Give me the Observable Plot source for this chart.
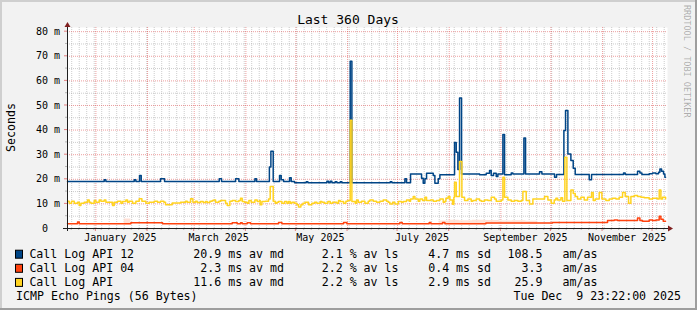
<!DOCTYPE html>
<html><head><meta charset="utf-8">
<script src="https://cdn.jsdelivr.net/npm/d3@7"></script>
<script src="https://cdn.jsdelivr.net/npm/@observablehq/plot@0.6"></script>
<style>
html,body{margin:0;padding:0;background:#f2f2f2;}
#chart svg{display:block;}
</style>
</head><body><div id="chart"></div>
<script>
// ---- data (x = day offset from 2025-01-01 UTC, y = milliseconds) ----
const seriesNames = ["Call Log API 12", "Call Log API 04", "Call Log API"];
const seriesColors = ["#004586", "#ff420e", "#ffd320"];

const api12 = [[-17.03,19.1],[5,19.8],[6,19.1],[23,19.8],[24,19.1],[26.2,21.5],[27.2,19.1],[38.8,20.2],[41.2,19.1],[74,20.2],[75.4,19.1],[83.8,20.2],[85.8,19.1],[95.4,20.2],[96.4,19.1],[104.1,25.0],[105,31.4],[106.4,19.1],[110.2,21.5],[111.2,19.8],[112.6,19.1],[116.2,20.6],[117.2,19.1],[119.2,18.6],[126.2,19.0],[127.2,18.6],[138.6,19.2],[139.6,18.6],[140.6,19.2],[141.6,18.6],[143.6,19.0],[144.6,18.6],[146.6,19.0],[147.6,18.6],[152.6,68.0],[153.6,18.6],[176.6,19.0],[177.6,18.6],[185.4,20.2],[186.4,18.6],[188.8,22.2],[195.4,20.4],[196.4,18.4],[197.4,20.2],[198.4,22.5],[202.4,21.5],[203.4,18.4],[205.4,20.2],[206.4,21.8],[215.2,35.0],[216.2,31.0],[217.2,24.0],[218.2,53.0],[219.4,22.2],[230.2,21.8],[234.2,22.5],[236.2,23.6],[237.2,21.5],[238.6,22.5],[240.2,21.1],[241.2,22.2],[244.2,38.2],[245.2,21.8],[249.2,22.6],[250.2,22.2],[256.8,36.8],[257.8,22.2],[266.2,23.1],[267.6,22.2],[275.2,20.8],[276.4,22.0],[280.8,39.8],[281.8,48.0],[283.2,30.3],[285,27.6],[286.4,24.5],[287.6,22.0],[296,19.8],[297.4,22.0],[316.6,22.6],[317.6,22.0],[325,23.3],[326.4,22.6],[327.6,22.0],[332,22.3],[334,22.6],[336,22.3],[337.6,22.9],[338.4,24.2],[339.4,23.3],[340.6,22.2],[341.4,20.8],[341.8,20.8]];

const api04 = [[-17.03,1.9],[-11,2.6],[-10,1.9],[21,2.3],[40,1.9],[81.8,2.3],[84.8,1.9],[86.8,2.3],[87.8,1.9],[90.8,2.3],[92.8,1.9],[109.6,2.4],[111.6,1.9],[148.6,2.4],[150.6,1.9],[182.4,2.4],[183.8,1.9],[200,2.4],[201,1.9],[208,2.4],[209.4,1.9],[234,2.2],[274,2.4],[307,3.25],[311,3.5],[313,3.25],[325,4.3],[326.4,3.25],[328,2.95],[332,3.5],[334,3.25],[336,3.5],[338,5.0],[339,3.8],[340.4,2.95],[341.8,2.95]];

const api = [[-17.03,11.1],[-16,10.3],[-14.6,11.1],[-13,10.3],[-11,10.7],[-10,9.3],[-9,10.3],[-7,10.7],[-5,11.6],[-4,10.7],[-3,10.3],[-1,11.4],[0,10.7],[2,11.6],[3,11.1],[5,11.6],[6,10.7],[10,9.3],[11,10.7],[13,11.1],[15,10.3],[16,11.0],[18,11.6],[19,10.7],[20,11.1],[22,10.3],[24,11.1],[26,12.1],[27.6,11.1],[30,10.3],[32,10.7],[35,11.1],[37,10.7],[38.8,11.1],[40.8,10.7],[41.8,9.7],[45.8,10.4],[50.8,10.7],[53.8,11.1],[54.8,10.7],[56.8,12.1],[58.2,10.7],[59.8,11.1],[60.8,10.6],[62.8,11.0],[64.4,10.6],[65.8,11.0],[66.8,10.6],[68.4,11.1],[69.8,11.4],[70.8,11.6],[71.8,10.7],[73.8,11.1],[74.8,11.4],[77.8,10.3],[78.8,9.3],[80.4,11.1],[81.8,11.4],[83.8,11.0],[85.8,11.4],[86.8,12.3],[87.8,11.0],[89.2,10.7],[90.8,10.3],[91.8,11.4],[93.2,10.7],[95.4,11.6],[96.8,11.0],[98.2,11.4],[98.6,9.7],[99.6,11.0],[101.6,11.1],[103.6,12.0],[104.6,17.1],[106.4,11.1],[107.6,10.3],[108.6,10.7],[109.6,11.0],[111.6,10.3],[113.2,11.0],[114.6,10.3],[115.6,11.0],[116.6,10.3],[117.6,10.7],[119.2,10.3],[120.6,9.7],[121.6,8.7],[123,9.7],[124.2,10.3],[125.6,10.7],[127.6,9.7],[129.6,10.3],[131.2,10.7],[132.6,10.3],[134.6,11.0],[135.6,10.7],[137.2,10.3],[139.2,11.0],[140.6,10.3],[142,10.7],[144.6,10.3],[145.6,11.4],[146.6,11.0],[148.6,10.3],[150,11.1],[151.2,11.4],[152.6,44.0],[153.6,11.0],[155.6,10.3],[156.4,11.6],[157.4,10.7],[159.4,11.1],[161.4,10.3],[163.4,11.1],[164.4,11.6],[166.4,11.1],[168.4,10.7],[170.4,11.1],[172.4,11.6],[174.4,11.1],[175.4,10.7],[176.4,10.0],[178,10.7],[179.4,10.0],[181.4,11.0],[183.4,10.7],[184.4,11.0],[186.4,11.6],[188,11.1],[188.8,12.0],[190.4,13.0],[191.4,12.0],[193.4,11.1],[194.4,12.0],[196,11.4],[197.4,12.7],[198.4,11.4],[200.8,11.6],[202.4,11.1],[204.4,11.4],[206.4,12.0],[208.4,10.7],[209.4,11.1],[210,12.3],[211.4,13.0],[212.4,11.6],[214,9.9],[214.8,12.7],[215.2,18.8],[216.2,13.0],[218.2,27.2],[219.6,12.7],[221.2,11.4],[223.2,12.0],[225.2,11.1],[226.2,11.4],[228.2,12.0],[230.2,11.4],[231.2,11.1],[233.2,11.6],[235.2,11.4],[237.2,12.7],[239.2,12.0],[240.2,11.1],[243.2,11.6],[244.2,20.8],[245.2,12.7],[247.2,11.6],[249.2,11.1],[251.2,11.4],[253.2,11.1],[255.2,11.4],[256.2,15.0],[258.2,11.4],[260.2,10.0],[262.2,12.0],[269.2,13.0],[271.2,11.6],[273.2,10.3],[275,11.6],[276,12.3],[277,11.6],[279,12.5],[280,11.1],[281.4,29.0],[282.6,11.4],[285,15.7],[286.4,14.2],[287.6,13.0],[289,12.0],[291,12.7],[293,11.6],[295,12.7],[297.4,14.6],[298.4,11.4],[299.6,12.0],[302,14.6],[303.6,12.0],[306,11.4],[308,12.0],[310,12.3],[312,12.0],[314,12.7],[316,14.6],[317.6,13.0],[319.6,10.3],[321,13.0],[323,13.4],[325,13.0],[327,12.7],[329,12.5],[332,12.0],[334,12.3],[337,12.0],[338,15.7],[339,12.0],[340,12.7],[341.8,12.0]];

// light smoke band around the API 04 line: [day, low, high]
const api04Smoke = [[17,1.4,3.9],[21,1.4,3.9],[21,NaN,NaN],[206,1.6,3.0],[212,1.6,3.4],[218,1.5,3.2],[226,1.6,3.4],[234,1.6,3.3],[242,1.7,3.0],[250,1.7,3.1],[258,1.7,2.9],[265,1.7,2.9]];

const legendMedian = ["20.9", "2.3", "11.6"];
const legendLoss = ["2.1", "2.2", "2.2"];
const legendSd = ["4.7", "0.4", "2.9"];
const legendAmAs = ["108.5", "3.3", "25.9"];

const yTicks = [0, 10, 20, 30, 40, 50, 60, 70, 80];
const yTickLabels = ["0  ", "10 m", "20 m", "30 m", "40 m", "50 m", "60 m", "70 m", "80 m"];
const monthStarts = ["2025-01-01","2025-02-01","2025-03-01","2025-04-01","2025-05-01","2025-06-01","2025-07-01","2025-08-01","2025-09-01","2025-10-01","2025-11-01","2025-12-01"];
const monthLabelDates = ["2025-01-16","2025-03-16","2025-05-16","2025-07-16","2025-09-16","2025-11-16"];
const monthLabelTexts = ["January 2025","March 2025","May 2025","July 2025","September 2025","November 2025"];

const titleText = "Last 360 Days";
const yAxisLabel = "Seconds";
const footerLeft = "ICMP Echo Pings (56 Bytes)";
const footerRight = "Tue Dec  9 23:22:00 2025";
const watermark = "RRDTOOL / TOBI OETIKER";

// ---- build ----
const base = Date.UTC(2025, 0, 1), DAY = 864e5;
const toDate = d => new Date(base + d * DAY);
const toRows = pairs => pairs.map(([d, v]) => ({date: toDate(d), v}));
const smokeRows = api04Smoke.map(([d, lo, hi]) => ({date: toDate(d), lo, hi}));
const minorY = [5, 15, 25, 35, 45, 55, 65, 75];
const majorY = yTicks.filter(v => v > 0);
const minorX = d3.range(-14.5, 343, 4.5).map(toDate);
const majorX = monthStarts.map(s => new Date(s + "T00:00:00Z"));

const W = 697, H = 310;
const M = {l: 67, r: 30, t: 27, b: 82};
const FONT = "'DejaVu Sans Mono', monospace";

const plot = Plot.plot({
  width: W, height: H,
  marginLeft: M.l, marginRight: M.r, marginTop: M.t, marginBottom: M.b,
  x: {type: "utc", domain: [toDate(-17.03), toDate(342.97)], axis: null},
  y: {domain: [0, 81.7], axis: null},
  style: {background: "#f2f2f2", fontFamily: FONT, whiteSpace: "pre", overflow: "visible"},
  marks: [
    Plot.frame({fill: "#ffffff", stroke: null}),
    Plot.ruleY(minorY, {stroke: "#8f8f8f", strokeOpacity: 0.45, strokeDasharray: "1,1"}),
    Plot.ruleX(minorX, {stroke: "#8f8f8f", strokeOpacity: 0.45, strokeDasharray: "1,1"}),
    Plot.ruleY(majorY, {stroke: "#de5050", strokeOpacity: 0.55, strokeDasharray: "1,1"}),
    Plot.ruleX(majorX, {stroke: "#de5050", strokeOpacity: 0.55, strokeDasharray: "1,1"}),
    Plot.areaY(smokeRows, {x: "date", y1: "lo", y2: "hi", curve: "step-after", fill: "#ffd9cc", fillOpacity: 0.8}),
    Plot.line(toRows(api12), {x: "date", y: "v", curve: "step-after", stroke: seriesColors[0], strokeWidth: 1.5}),
    Plot.line(toRows(api04), {x: "date", y: "v", curve: "step-after", stroke: seriesColors[1], strokeWidth: 1.5}),
    Plot.line(toRows(api), {x: "date", y: "v", curve: "step-after", stroke: seriesColors[2], strokeWidth: 1.5})
  ]
});
document.getElementById("chart").appendChild(plot);

const xs = plot.scale("x"), ys = plot.scale("y");
const svg = d3.select(plot);
const g = svg.append("g").attr("font-family", FONT).attr("text-anchor", "start").style("white-space", "pre");
const x0 = xs.apply(toDate(-17.03)), x1 = xs.apply(toDate(342.97));
const y0 = ys.apply(0), yTop = ys.apply(81.7);

// ticks on the axes
for (const d of minorX) {
  const x = xs.apply(d);
  if (x < x0 || x > x1) continue;
  g.append("line").attr("x1", x).attr("x2", x).attr("y1", y0).attr("y2", y0 + 2).attr("stroke", "#8f8f8f").attr("stroke-opacity", 0.6);
}
for (const d of majorX) {
  const x = xs.apply(d);
  g.append("line").attr("x1", x).attr("x2", x).attr("y1", y0).attr("y2", y0 + 3).attr("stroke", "#de5050").attr("stroke-opacity", 0.7);
}
for (const v of minorY) {
  const y = ys.apply(v);
  g.append("line").attr("x1", x0 - 2).attr("x2", x0).attr("y1", y).attr("y2", y).attr("stroke", "#8f8f8f").attr("stroke-opacity", 0.6);
}
for (const v of majorY) {
  const y = ys.apply(v);
  g.append("line").attr("x1", x0 - 3).attr("x2", x0).attr("y1", y).attr("y2", y).attr("stroke", "#de5050").attr("stroke-opacity", 0.7);
}

// axis lines + arrows
g.append("line").attr("x1", x0 - 4).attr("x2", x1 + 2).attr("y1", y0 + 0.5).attr("y2", y0 + 0.5).attr("stroke", "#1f1f1f");
g.append("line").attr("x1", x0 + 0.5).attr("x2", x0 + 0.5).attr("y1", y0 + 3).attr("y2", yTop - 1).attr("stroke", "#1f1f1f");
g.append("path").attr("d", `M${x1 + 1},${y0 - 2.5}L${x1 + 6},${y0 + 0.5}L${x1 + 1},${y0 + 3.5}Z`).attr("fill", "#7f1f1f");
g.append("path").attr("d", `M${x0 - 2.5},${yTop}L${x0 + 0.5},${yTop - 5}L${x0 + 3.5},${yTop}Z`).attr("fill", "#7f1f1f");

// y tick labels
yTicks.forEach((v, i) => {
  g.append("text").attr("x", x0 - 7).attr("y", ys.apply(v) + 3.7).attr("text-anchor", "end")
    .attr("font-size", 10).attr("fill", "#000").text(yTickLabels[i]);
});
// month labels
monthLabelDates.forEach((s, i) => {
  g.append("text").attr("x", xs.apply(new Date(s + "T00:00:00Z"))).attr("y", y0 + 12.7).attr("text-anchor", "middle")
    .attr("font-size", 10).attr("fill", "#000").text(monthLabelTexts[i]);
});

// title, y label, watermark
g.append("text").attr("x", 348).attr("y", 24).attr("text-anchor", "middle").attr("font-size", 13).attr("fill", "#000").text(titleText);
g.append("text").attr("transform", `translate(15,${(y0 + yTop) / 2}) rotate(-90)`).attr("text-anchor", "middle")
  .attr("font-size", 11.6).attr("fill", "#000").text(yAxisLabel);
g.append("text").attr("transform", "translate(684,5) rotate(90)").attr("text-anchor", "start")
  .attr("font-size", 8.5).attr("fill", "#000").attr("fill-opacity", 0.3).text(watermark);

// legend
const rowsY = [257.7, 271.8, 285.9];
const LF = 11.6;
seriesNames.forEach((name, i) => {
  const by = rowsY[i];
  g.append("rect").attr("x", 15.5).attr("y", by - 7.5).attr("width", 7).attr("height", 8)
    .attr("fill", seriesColors[i]).attr("stroke", "#000").attr("stroke-width", 1);
  const t = (x, anchor, s) => g.append("text").attr("x", x).attr("y", by).attr("text-anchor", anchor)
    .attr("font-size", LF).attr("fill", "#000").text(s);
  t(29.4, "start", name);
  t(284, "end", `${legendMedian[i]} ms av md`);
  t(398.5, "end", `${legendLoss[i]} % av ls`);
  t(491, "end", `${legendSd[i]} ms sd`);
  t(542.5, "end", legendAmAs[i]);
  t(562.5, "start", "am/as");
});
g.append("text").attr("x", 16.1).attr("y", 300).attr("text-anchor", "start").attr("font-size", LF).attr("fill", "#000").text(footerLeft);
g.append("text").attr("x", 681).attr("y", 300).attr("text-anchor", "end").attr("font-size", LF).attr("fill", "#000").text(footerRight);

// outer 3D frame
g.append("rect").attr("x", 0).attr("y", 0).attr("width", W).attr("height", 2).attr("fill", "#cfcfcf");
g.append("rect").attr("x", 0).attr("y", 0).attr("width", 2).attr("height", H).attr("fill", "#cfcfcf");
g.append("rect").attr("x", 0).attr("y", H - 2).attr("width", W).attr("height", 2).attr("fill", "#9e9e9e");
g.append("rect").attr("x", W - 2).attr("y", 0).attr("width", 2).attr("height", H).attr("fill", "#9e9e9e");
</script>
</body></html>
